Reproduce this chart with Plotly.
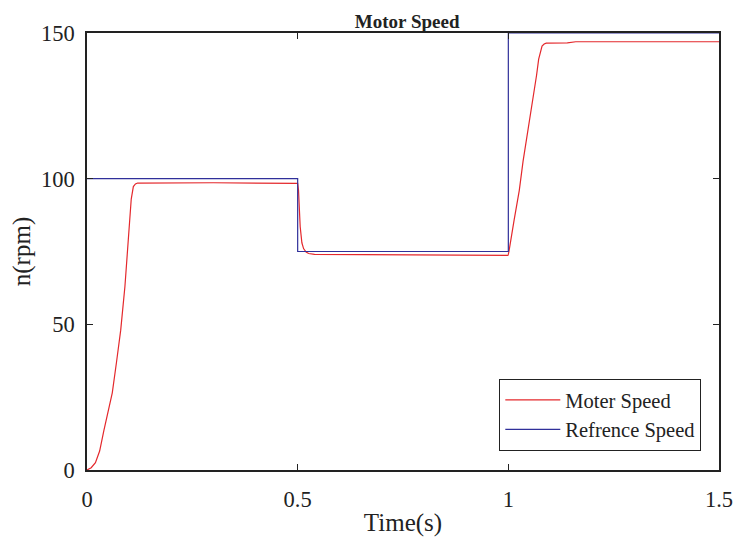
import plotly.graph_objects as go

# Motor speed (rpm) vs time (s)
motor_t = [0, 0.01, 0.02, 0.03, 0.04, 0.05, 0.06, 0.07, 0.08, 0.09, 0.1, 0.105, 0.11, 0.115, 0.12,
           0.3, 0.499, 0.5, 0.502, 0.504, 0.506, 0.51, 0.514, 0.52, 0.526, 0.54, 0.7, 0.999,
           1.0, 1.002, 1.014, 1.026, 1.035, 1.045, 1.055, 1.061, 1.067, 1.072, 1.077, 1.08,
           1.085, 1.09, 1.14, 1.16, 1.5]
motor_speed = [0, 0.8, 2.5, 6.5, 13.5, 19.5, 26.5, 37, 48, 63, 84, 93, 97.3, 98.2, 98.5,
               98.6, 98.4, 98.4, 96, 90, 83.5, 78, 76, 74.8, 74.3, 74.0, 73.9, 73.7,
               74, 75.5, 86, 96, 106, 115, 125, 130, 135.5, 141, 144.3, 145.5,
               146.2, 146.5, 146.6, 147, 147]

# Reference speed (rpm)
ref_t = [0, 0.5, 0.5, 1.0, 1.0, 1.5]
ref_speed = [100, 100, 75, 75, 150, 150]

x_ticks = [0, 0.5, 1, 1.5]
x_tick_text = ["0", "0.5", "1", "1.5"]
y_ticks = [0, 50, 100, 150]

FONT = "Liberation Serif, Times New Roman, serif"

fig = go.Figure()
fig.add_trace(go.Scatter(x=motor_t, y=motor_speed, mode="lines", name="Moter Speed",
                         line=dict(color="#e4282c", width=1.2)))
fig.add_trace(go.Scatter(x=ref_t, y=ref_speed, mode="lines", name="Refrence Speed",
                         line=dict(color="#30309a", width=1.2)))

axis_common = dict(showline=True, linecolor="#222", linewidth=1.5, mirror="ticks",
                   ticks="inside", ticklen=6, tickcolor="#222", tickwidth=1.2,
                   showgrid=False, zeroline=False,
                   tickfont=dict(family=FONT, size=22.5, color="#222"))

fig.update_layout(
    width=745, height=544,
    margin=dict(l=87, r=17, t=33, b=74),
    paper_bgcolor="white", plot_bgcolor="white",
    title=dict(text="<b>Motor Speed</b>", x=0.5465, xanchor="center", y=0.96, yanchor="middle",
               font=dict(family=FONT, size=19, color="#222")),
    xaxis=dict(range=[0, 1.5], tickvals=x_ticks, ticktext=x_tick_text,
               title=dict(text="Time(s)", font=dict(family=FONT, size=25, color="#222"), standoff=3),
               ticklabelstandoff=8, **axis_common),
    yaxis=dict(range=[0, 150], tickvals=y_ticks,
               title=dict(text="n(rpm)", font=dict(family=FONT, size=25, color="#222"), standoff=3),
               ticklabelstandoff=6, **axis_common),
    legend=dict(x=0.972, xanchor="right", y=0.0435, yanchor="bottom",
                bgcolor="white", bordercolor="#222", borderwidth=1, itemwidth=55,
                font=dict(family=FONT, size=20.5, color="#222"), tracegroupgap=0),
    showlegend=True,
)

fig.write_html("out.html")
